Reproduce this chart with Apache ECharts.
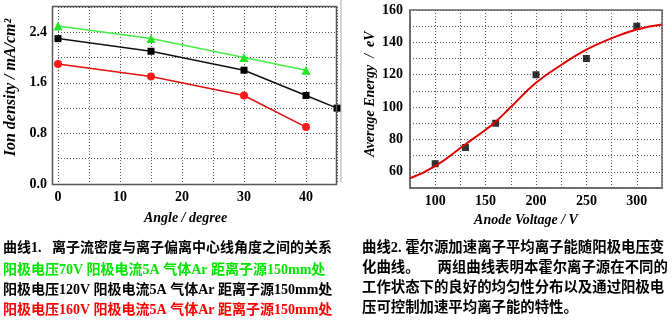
<!DOCTYPE html>
<html>
<head>
<meta charset="utf-8">
<script src="https://cdn.jsdelivr.net/npm/echarts@6/dist/echarts.min.js"></script>
<style>
  html, body { margin: 0; padding: 0; background: #fff; }
  #chart { width: 672px; height: 329px; }
</style>
</head>
<body>
<div id="chart"></div>
<script>
// Ion density vs. angle (three anode voltages)
const angles = [0, 15, 30, 40, 45];
const density70V = [2.5, 2.3, 2.0, 1.8];
const density120V = [2.3, 2.1, 1.8, 1.4, 1.2];
const density160V = [1.9, 1.7, 1.4, 0.9];
const angleLabels = [0, 10, 20, 30, 40];
const densityLabels = [0, 0.8, 1.6, 2.4];

// Average ion energy vs. anode voltage
const voltages = [100, 130, 160, 200, 250, 300];
const energies = [65, 75, 90, 120, 130, 150];
const fitVoltages = [75, 100, 130, 150, 160, 175, 200, 225, 250, 275, 300, 325];
const fitEnergies = [56, 63.5, 77, 86, 91, 100, 115, 126, 135.5, 142.5, 148, 151];
const voltageLabels = [100, 150, 200, 250, 300];

const captionLeft = [
  { text: '曲线1.   离子流密度与离子偏离中心线角度之间的关系', color: '#000' },
  { text: '阳极电压70V 阳极电流5A 气体Ar 距离子源150mm处', color: '#00e600' },
  { text: '阳极电压120V 阳极电流5A 气体Ar 距离子源150mm处', color: '#000' },
  { text: '阳极电压160V 阳极电流5A 气体Ar 距离子源150mm处', color: '#ff0000' }
];
const captionRight = [
  '曲线2. 霍尔源加速离子平均离子能随阳极电压变',
  '化曲线。     两组曲线表明本霍尔离子源在不同的',
  '工作状态下的良好的均匀性分布以及通过阳极电',
  '压可控制加速平均离子能的特性。'
];

const serif = '"Liberation Serif", "Times New Roman", serif';
const capFont = '"Liberation Serif", "Noto Sans CJK SC", serif';

const pair = (xs, ys) => ys.map((y, i) => [xs[i], y]);

const tickLabel = { color: '#000', fontFamily: serif, fontWeight: 'bold', fontSize: 14 };
const nameStyle = { color: '#000', fontFamily: serif, fontWeight: 'bold', fontStyle: 'italic', fontSize: 14 };
const dotted = { show: true, lineStyle: { color: '#555', type: [1, 2], width: 1 } };

const chart = echarts.init(document.getElementById('chart'), null, { renderer: 'canvas' });

const leftY = [249, 271.5, 291, 311];
const rightY = [249.5, 269, 289, 309];

chart.setOption({
  backgroundColor: '#fff',
  animation: false,
  grid: [
    { left: 58, top: 7, right: 335, bottom: 145, show: false },
    { left: 410, top: 10, right: 10, bottom: 141, show: true, borderColor: '#666', borderWidth: 1.5, backgroundColor: 'transparent' }
  ],
  xAxis: [
    {
      gridIndex: 0, type: 'value', min: 0, max: 45, interval: 5,
      axisLine: { show: false },
      axisTick: { show: false },
      axisLabel: Object.assign({ margin: 6, formatter: v => (v % 10 === 0 && v < 45 ? String(v) : '') }, tickLabel),
      splitLine: { show: true, lineStyle: { color: '#555', type: [1, 2], width: 1 } },
      name: 'Angle / degree', nameLocation: 'middle', nameGap: 27,
      nameTextStyle: Object.assign({ padding: [0, 24, 0, 0] }, nameStyle)
    },
    {
      gridIndex: 1, type: 'value', min: 75, max: 325, interval: 25,
      axisLine: { show: true, onZero: false, lineStyle: { color: '#666', width: 1.5 } },
      axisTick: { show: false },
      axisLabel: Object.assign({ margin: 6, formatter: v => (v % 50 === 0 && v >= 100 && v <= 300 ? String(v) : '') }, tickLabel),
      splitLine: dotted,
      name: 'Anode Voltage / V', nameLocation: 'middle', nameGap: 23,
      nameTextStyle: Object.assign({ padding: [0, 20, 0, 0] }, nameStyle)
    }
  ],
  yAxis: [
    {
      gridIndex: 0, type: 'value', min: 0, max: 2.8, interval: 0.4,
      axisLine: { show: false },
      axisTick: { show: false },
      axisLabel: Object.assign({ margin: 11, formatter: v => (densityLabels.some(d => Math.abs(d - v) < 1e-6) ? v.toFixed(1) : '') }, tickLabel),
      splitLine: dotted,
      name: 'Ion density / mA/cm²', nameLocation: 'middle', nameRotate: 90, nameGap: 39,
      nameTextStyle: Object.assign({ padding: [0, 0, 0, 16] }, nameStyle, { fontSize: 16 })
    },
    {
      gridIndex: 1, type: 'value', min: 50, max: 160, interval: 10,
      axisLine: { show: true, onZero: false, lineStyle: { color: '#666', width: 1.5 } },
      axisTick: { show: false },
      axisLabel: Object.assign({ margin: 7, formatter: v => (v % 20 === 0 ? String(v) : '') }, tickLabel),
      splitLine: dotted,
      name: 'Average Energy  /  eV', nameLocation: 'middle', nameRotate: 90, nameGap: 33,
      nameTextStyle: Object.assign({ padding: [0, 0, 0, 10] }, nameStyle)
    }
  ],
  series: [
    {
      type: 'line', xAxisIndex: 0, yAxisIndex: 0, data: pair(angles, density70V),
      symbol: 'triangle', symbolSize: 9, itemStyle: { color: '#22e622' },
      lineStyle: { color: '#44ee44', width: 1.5 }, z: 3
    },
    {
      type: 'line', xAxisIndex: 0, yAxisIndex: 0, data: pair(angles, density120V),
      symbol: 'rect', symbolSize: 7, itemStyle: { color: '#000' },
      lineStyle: { color: '#111', width: 1.5 }, z: 3
    },
    {
      type: 'line', xAxisIndex: 0, yAxisIndex: 0, data: pair(angles, density160V),
      symbol: 'circle', symbolSize: 8, itemStyle: { color: '#ff1a1a' },
      lineStyle: { color: '#e01010', width: 1.5 }, z: 3
    },
    {
      type: 'line', xAxisIndex: 1, yAxisIndex: 1, data: pair(fitVoltages, fitEnergies),
      smooth: 0.5, showSymbol: false, lineStyle: { color: '#e00000', width: 2 }
    },
    {
      type: 'scatter', xAxisIndex: 1, yAxisIndex: 1, data: pair(voltages, energies),
      symbol: 'rect', symbolSize: 7, itemStyle: { color: '#000' }
    }
  ],
  graphic: [
    // frame of the left plot, with a small margin before the 0° line
    { type: 'rect', z: 10, silent: true, shape: { x: 52.5, y: 6.5, width: 284, height: 178 },
      style: { fill: 'none', stroke: '#555', lineWidth: 1.5 } },
    { type: 'line', shape: { x1: 341, y1: 0, x2: 341, y2: 182 }, style: { stroke: '#aaa', lineWidth: 1 } }
  ].concat(captionLeft.map((c, i) => ({
    type: 'text', left: 3, top: leftY[i] - 8,
    style: { text: c.text, fill: c.color, font: 'bold 14px ' + capFont }
  }))).concat(captionRight.map((t, i) => ({
    type: 'text', left: 362, top: rightY[i] - 8,
    style: { text: t, fill: '#000', font: 'bold 14.4px ' + capFont }
  })))
});
</script>
</body>
</html>
